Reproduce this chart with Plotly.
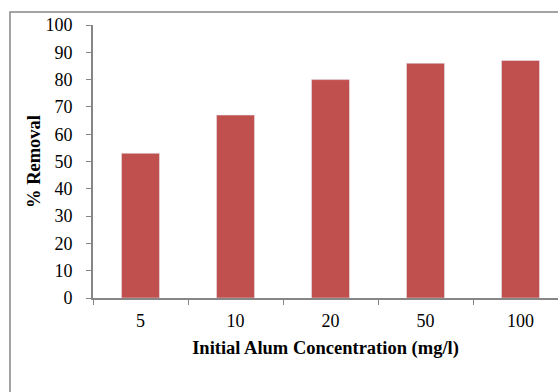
import plotly.graph_objects as go

categories = ["5", "10", "20", "50", "100"]
removal = [53, 67, 80, 86, 87]
y_ticks = [0, 10, 20, 30, 40, 50, 60, 70, 80, 90, 100]

W, H = 558, 392
L, R, T, B = 93, 0, 25, 94
pw = W - L - R
ph = H - T - B

fig = go.Figure(go.Bar(x=categories, y=removal, marker_color="#C0504D", width=0.4))

fam = "Liberation Serif, serif"
axis_col = "#868686"
tick_font = dict(family=fam, size=18, color="black")
title_font = dict(family=fam, size=18.5, color="black")

fig.update_layout(
    width=W, height=H,
    margin=dict(l=L, r=R, t=T, b=B, pad=0),
    paper_bgcolor="white", plot_bgcolor="white",
    font=dict(family=fam, size=18, color="black"),
    showlegend=False,
    xaxis=dict(
        type="category", range=[-0.5, -0.5 + pw / 95.0],
        showline=True, linecolor=axis_col, linewidth=2,
        ticks="outside", ticklen=5, tickcolor=axis_col, tickwidth=1,
        tickson="boundaries", showgrid=False, zeroline=False,
        tickfont=tick_font,
        title=dict(text="<b>Initial Alum Concentration (mg/l)</b>", standoff=11,
                   font=title_font),
        ticklabelstandoff=5,
    ),
    yaxis=dict(
        range=[0, 100], tickvals=y_ticks,
        showline=True, linecolor=axis_col, linewidth=2,
        ticks="outside", ticklen=5, tickcolor=axis_col, tickwidth=1,
        showgrid=False, zeroline=False,
        tickfont=tick_font,
        title=dict(text="<b>% Removal</b>", standoff=0,
                   font=title_font),
        ticklabelstandoff=10,
    ),
    shapes=[dict(
        type="rect", xref="paper", yref="paper",
        x0=(10 - L) / pw, x1=1.2,
        y0=-0.5, y1=(298 - 12) / ph,
        line=dict(color=axis_col, width=1.5), fillcolor="rgba(0,0,0,0)",
        layer="below",
    )],
)

fig.write_html("out.html")
